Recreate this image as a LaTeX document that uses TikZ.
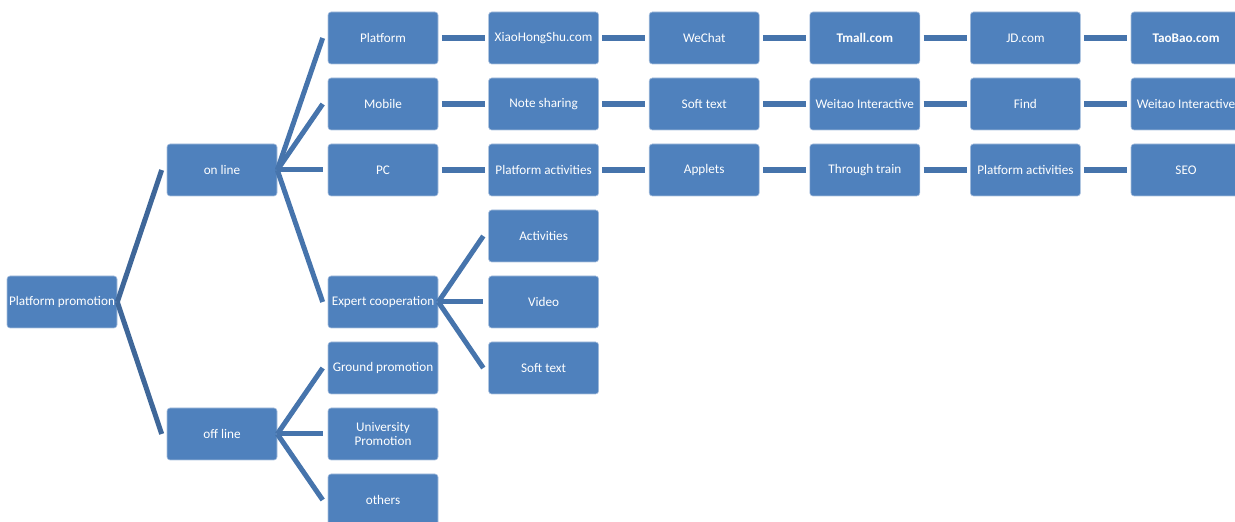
\documentclass[tikz,border=0pt]{standalone}
\usepackage{fontspec}
\setmainfont{Carlito}
\usetikzlibrary{positioning}
\definecolor{boxblue}{HTML}{4F81BD}
\definecolor{edgeblue}{HTML}{A9C0DE}
\definecolor{linkblue}{HTML}{4674AC}
\definecolor{treeblue}{HTML}{3F6799}
\tikzset{
  box/.style={rectangle,rounded corners=1.5pt,fill=boxblue,draw=edgeblue,line width=0.3pt,
    minimum width=55pt,minimum height=26pt,inner sep=0pt,text=white,align=center,
    font=\fontsize{6.6}{7.2}\selectfont},
  link/.style={draw=linkblue,line width=3pt},
  branch/.style={draw=linkblue,line width=2.5pt},
  rootbranch/.style={draw=treeblue,line width=2.5pt},
}
\begin{document}
\begin{tikzpicture}[x=0.5pt,y=-0.5pt]
\useasboundingbox (0,0) rectangle (1235,522);

% tree part
\node[box] (root) at (62,302) {Platform promotion};
\node[box] (online) at (222,170) {on line};
\node[box] (offline) at (222,434) {off line};

\node[box] (p0) at (383,38) {Platform};
\node[box] (m0) at (383,104) {Mobile};
\node[box] (c0) at (383,170) {PC};
\node[box] (expert) at (383,302) {Expert cooperation};
\node[box] (ground) at (383,368) {Ground promotion};
\node[box] (univ) at (383,434) {University\\Promotion};
\node[box] (others) at (383,500) {others};

\node[box] (act) at (543.6,236) {Activities};
\node[box] (video) at (543.6,302) {Video};
\node[box] (soft) at (543.6,368) {Soft text};

% chains
\foreach \i/\txt in {1/XiaoHongShu.com, 2/WeChat, 3/\textbf{Tmall.com}, 4/JD.com, 5/\textbf{TaoBao.com}} {
    \node[box] (p\i) at ({383+160.6*\i},38) {\txt};
}
\foreach \i/\txt in {1/Note sharing, 2/Soft text, 3/Weitao Interactive, 4/Find, 5/Weitao Interactive} {
    \node[box] (m\i) at ({383+160.6*\i},104) {\txt};
}
\foreach \i/\txt in {1/Platform activities, 2/Applets, 3/Through train, 4/Platform activities, 5/SEO} {
    \node[box] (c\i) at ({383+160.6*\i},170) {\txt};
}

\foreach \row in {p,m,c} {
    \foreach \i in {0,...,4} {
        \pgfmathtruncatemacro{\next}{\i+1}
        \draw[link] ([xshift=1.75pt]\row\i.east) -- ([xshift=-1.75pt]\row\next.west);
    }
}

% branches
\foreach \to in {online,offline}
    \draw[rootbranch] (root.east) -- ([xshift=-2.5pt]\to.west);
\foreach \to in {p0,m0,c0,expert}
    \draw[branch] (online.east) -- ([xshift=-2.5pt]\to.west);
\foreach \to in {ground,univ,others}
    \draw[branch] (offline.east) -- ([xshift=-2.5pt]\to.west);
\foreach \to in {act,video,soft}
    \draw[branch] (expert.east) -- ([xshift=-2.5pt]\to.west);
\end{tikzpicture}
\end{document}
